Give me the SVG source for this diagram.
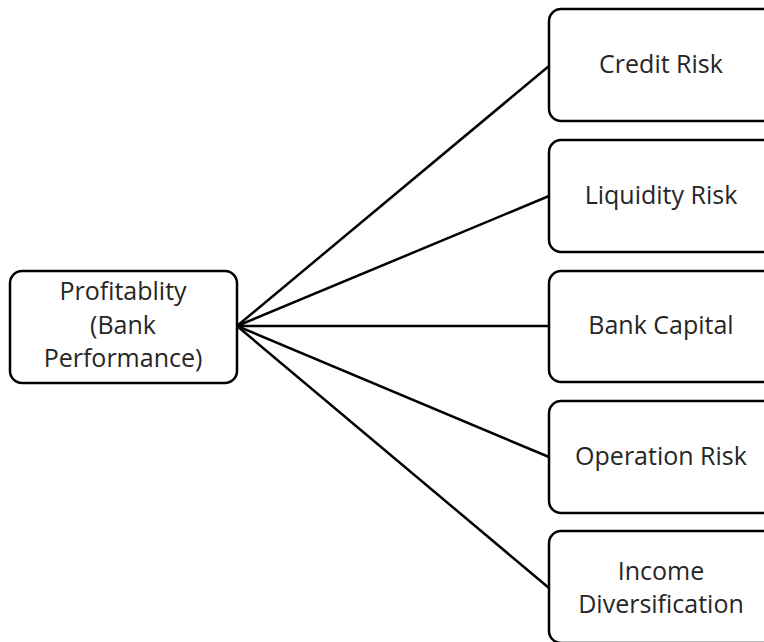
<svg xmlns="http://www.w3.org/2000/svg" width="764" height="642" viewBox="0 0 764 642">
  <style>
    .box { fill: #ffffff; stroke: #000000; stroke-width: 2.5; }
    .lbl { font-family: "Open Sans", "Liberation Sans", sans-serif; font-size: 25px; fill: #262626; text-anchor: middle; }
    .link { stroke: #000000; stroke-width: 2.5; fill: none; }
  </style>
  <rect width="764" height="642" fill="#ffffff"/>

  <!-- connectors fanning out from the profitability node -->
  <g id="connectors">
    <line class="link" x1="237" y1="326" x2="549" y2="66"/>
    <line class="link" x1="237" y1="326" x2="549" y2="196"/>
    <line class="link" x1="237" y1="326" x2="549" y2="326"/>
    <line class="link" x1="237" y1="326" x2="549" y2="457"/>
    <line class="link" x1="237" y1="326" x2="549" y2="588"/>
  </g>

  <g id="profitability">
    <rect class="box" x="10" y="271" width="227" height="112" rx="12"/>
    <text class="lbl" x="123" y="300">Profitablity</text>
    <text class="lbl" x="123" y="334">(Bank</text>
    <text class="lbl" x="123" y="367">Performance)</text>
  </g>

  <g id="credit-risk">
    <rect class="box" x="549" y="9" width="260" height="112" rx="12"/>
    <text class="lbl" x="661" y="73">Credit Risk</text>
  </g>

  <g id="liquidity-risk">
    <rect class="box" x="549" y="140" width="260" height="112" rx="12"/>
    <text class="lbl" x="661" y="204">Liquidity Risk</text>
  </g>

  <g id="bank-capital">
    <rect class="box" x="549" y="271" width="260" height="111" rx="12"/>
    <text class="lbl" x="661" y="334">Bank Capital</text>
  </g>

  <g id="operation-risk">
    <rect class="box" x="549" y="401" width="260" height="112" rx="12"/>
    <text class="lbl" x="661" y="465">Operation Risk</text>
  </g>

  <g id="income-diversification">
    <rect class="box" x="549" y="531" width="260" height="112" rx="12"/>
    <text class="lbl" x="661" y="580">Income</text>
    <text class="lbl" x="661" y="613">Diversification</text>
  </g>
</svg>
